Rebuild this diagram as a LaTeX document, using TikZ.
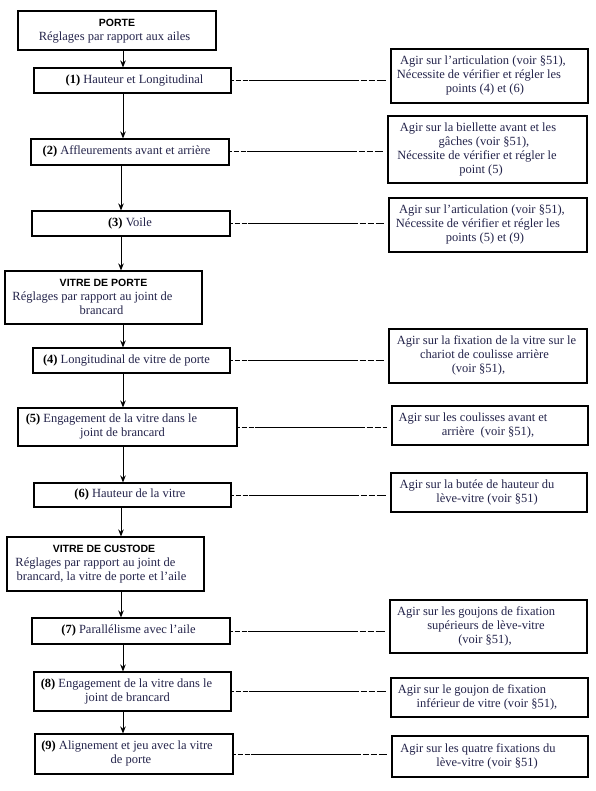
\documentclass[tikz,border=0pt]{standalone}
\usepackage{fontspec}
\setmainfont{Liberation Serif}
\newfontfamily\headfont{Liberation Sans}
\usetikzlibrary{arrows.meta}
\definecolor{ink}{HTML}{23234A}
\newcommand\Ln[2]{\makebox[0pt]{\hspace*{#1pt}#2\hspace*{-#1pt}}}
\newcommand\Rows[1]{\begin{tabular}{@{}c@{}}#1\end{tabular}}
\newcommand\Hd[1]{{\color{black}\headfont\bfseries\fontsize{10.5}{12}\selectfont #1}}
\newcommand\Nm[1]{{\color{black}\bfseries(#1)}}
\tikzset{
  box/.style={draw=black, line width=1.1pt, inner sep=0pt, text=ink,
    font=\fontsize{12.5}{14}\selectfont},
  arr/.style={line width=1pt, -{Stealth[length=7pt,width=5.5pt]}},
  conn/.style={line width=1pt, shorten >=4pt,
    dash pattern=on 2pt off 2pt on 5pt off 2pt on 5pt off 1pt on 110pt off 2pt on 6pt off 2pt on 6pt off 2pt on 80pt}
}
\begin{document}
\begin{tikzpicture}[x=1pt,y=-1pt]
\useasboundingbox (0,0) rectangle (595,791);
\fill[white] (0,0) rectangle (595,791);

% left column
\node[box, minimum width=198pt, minimum height=39pt] (porte) at (117,30.5)
  {\Rows{\Ln{0}{\Hd{PORTE}}\\ \Ln{-2.5}{Réglages par rapport aux ailes}}};
\node[box, minimum width=197pt, minimum height=25pt] (b1) at (132.5,80.5)
  {\Rows{\Ln{2}{\Nm{1} Hauteur et Longitudinal}}};
\node[box, minimum width=198pt, minimum height=26pt] (b2) at (130,152)
  {\Rows{\Ln{-3.5}{\Nm{2} Affleurements avant et arrière}}};
\node[box, minimum width=198pt, minimum height=25pt] (b3) at (131,223.5)
  {\Rows{\Ln{-1}{\Nm{3} Voile}}};
\node[box, minimum width=197pt, minimum height=53pt] (vdp) at (103.5,297.5)
  {\Rows{\Ln{0}{\Hd{VITRE DE PORTE}}\\ \Ln{-11}{Réglages par rapport au joint de}\\ \Ln{-2}{brancard}}};
\node[box, minimum width=197pt, minimum height=25pt] (b4) at (131.5,360.5)
  {\Rows{\Ln{-5}{\Nm{4} Longitudinal de vitre de porte}}};
\node[box, minimum width=219pt, minimum height=38pt] (b5) at (127.5,427)
  {\Rows{\Ln{-16}{\Nm{5} Engagement de la vitre dans le}\\ \Ln{-5}{joint de brancard}}};
\node[box, minimum width=197pt, minimum height=24pt] (b6) at (132.5,495)
  {\Rows{\Ln{-2.5}{\Nm{6} Hauteur de la vitre}}};
\node[box, minimum width=197pt, minimum height=54pt] (vdc) at (105.5,564)
  {\Rows{\Ln{-1.5}{\Hd{VITRE DE CUSTODE}}\\ \Ln{-10}{Réglages par rapport au joint de}\\ \Ln{-4}{brancard, la vitre de porte et l’aile}}};
\node[box, minimum width=198pt, minimum height=26pt] (b7) at (131,631)
  {\Rows{\Ln{-2.5}{\Nm{7} Parallélisme avec l’aile}}};
\node[box, minimum width=197pt, minimum height=39pt] (b8) at (132.5,691.5)
  {\Rows{\Ln{-6}{\Nm{8} Engagement de la vitre dans le}\\ \Ln{-5}{joint de brancard}}};
\node[box, minimum width=198pt, minimum height=40pt] (b9) at (134,754)
  {\Rows{\Ln{-7}{\Nm{9} Alignement et jeu avec la vitre}\\ \Ln{-3}{de porte}}};

% right column
\node[box, minimum width=197pt, minimum height=54pt] (r1) at (489.5,76)
  {\Rows{\Ln{-6.5}{Agir sur l’articulation (voir §51),}\\ \Ln{-10.5}{Nécessite de vérifier et régler les}\\ \Ln{-4.5}{points (4) et (6)}}};
\node[box, minimum width=199pt, minimum height=67pt] (r2) at (487.5,149.5)
  {\Rows{\Ln{-9.5}{Agir sur la biellette avant et les}\\ \Ln{-3.5}{gâches (voir §51),}\\ \Ln{-10.5}{Nécessite de vérifier et régler le}\\ \Ln{-6.5}{point (5)}}};
\node[box, minimum width=198pt, minimum height=54pt] (r3) at (488,225)
  {\Rows{\Ln{-6}{Agir sur l’articulation (voir §51),}\\ \Ln{-10}{Nécessite de vérifier et régler les}\\ \Ln{-3}{points (5) et (9)}}};
\node[box, minimum width=198pt, minimum height=54pt] (r4) at (488,356)
  {\Rows{\Ln{-1.5}{Agir sur la fixation de la vitre sur le}\\ \Ln{-3.5}{chariot de coulisse arrière}\\ \Ln{-9.5}{(voir §51),}}};
\node[box, minimum width=196pt, minimum height=39pt] (r5) at (490,425.5)
  {\Rows{\Ln{-17}{Agir sur les coulisses avant et}\\ \Ln{-2}{arrière\ \ (voir §51),}}};
\node[box, minimum width=196pt, minimum height=39pt] (r6) at (489,492.5)
  {\Rows{\Ln{-12}{Agir sur la butée de hauteur du}\\ \Ln{-2}{lève-vitre (voir §51)}}};
\node[box, minimum width=197pt, minimum height=53pt] (r7) at (488.5,626.5)
  {\Rows{\Ln{-12.5}{Agir sur les goujons de fixation}\\ \Ln{-2.5}{supérieurs de lève-vitre}\\ \Ln{-3.5}{(voir §51),}}};
\node[box, minimum width=197pt, minimum height=39pt] (r8) at (489.5,697.5)
  {\Rows{\Ln{-17.5}{Agir sur le goujon de fixation}\\ \Ln{-2.5}{inférieur de vitre (voir §51),}}};
\node[box, minimum width=196pt, minimum height=41pt] (r9) at (490,756.5)
  {\Rows{\Ln{-12}{Agir sur les quatre fixations du}\\ \Ln{-3}{lève-vitre (voir §51)}}};

% arrow columns
\coordinate (xa) at (123,0);
\coordinate (xb) at (121,0);
\draw[arr] (porte.south -| xa) -- (b1.north -| xa);
\draw[arr] (b1.south -| xa) -- (b2.north -| xa);
\draw[arr] (b2.south -| xb) -- (b3.north -| xb);
\draw[arr] (b3.south -| xb) -- (vdp.north -| xb);
\draw[arr] (vdp.south -| xa) -- (b4.north -| xa);
\draw[arr] (b4.south -| xa) -- (b5.north -| xa);
\draw[arr] (b5.south -| xa) -- (b6.north -| xa);
\draw[arr] (b6.south -| xb) -- (vdc.north -| xb);
\draw[arr] (vdc.south -| xb) -- (b7.north -| xb);
\draw[arr] (b7.south -| xa) -- (b8.north -| xa);
\draw[arr] (b8.south -| xa) -- (b9.north -| xa);

% connectors
\draw[conn] (b1.east) -- (b1.east -| r1.west);
\draw[conn] (b2.east) -- (b2.east -| r2.west);
\draw[conn] (b3.east) -- (b3.east -| r3.west);
\draw[conn] (b4.east) -- (b4.east -| r4.west);
\draw[conn] (b5.east) -- (b5.east -| r5.west);
\draw[conn] (b6.east) -- (b6.east -| r6.west);
\draw[conn] (b7.east) -- (b7.east -| r7.west);
\draw[conn] (b8.east) -- (b8.east -| r8.west);
\draw[conn] (b9.east) -- (b9.east -| r9.west);
\end{tikzpicture}
\end{document}
